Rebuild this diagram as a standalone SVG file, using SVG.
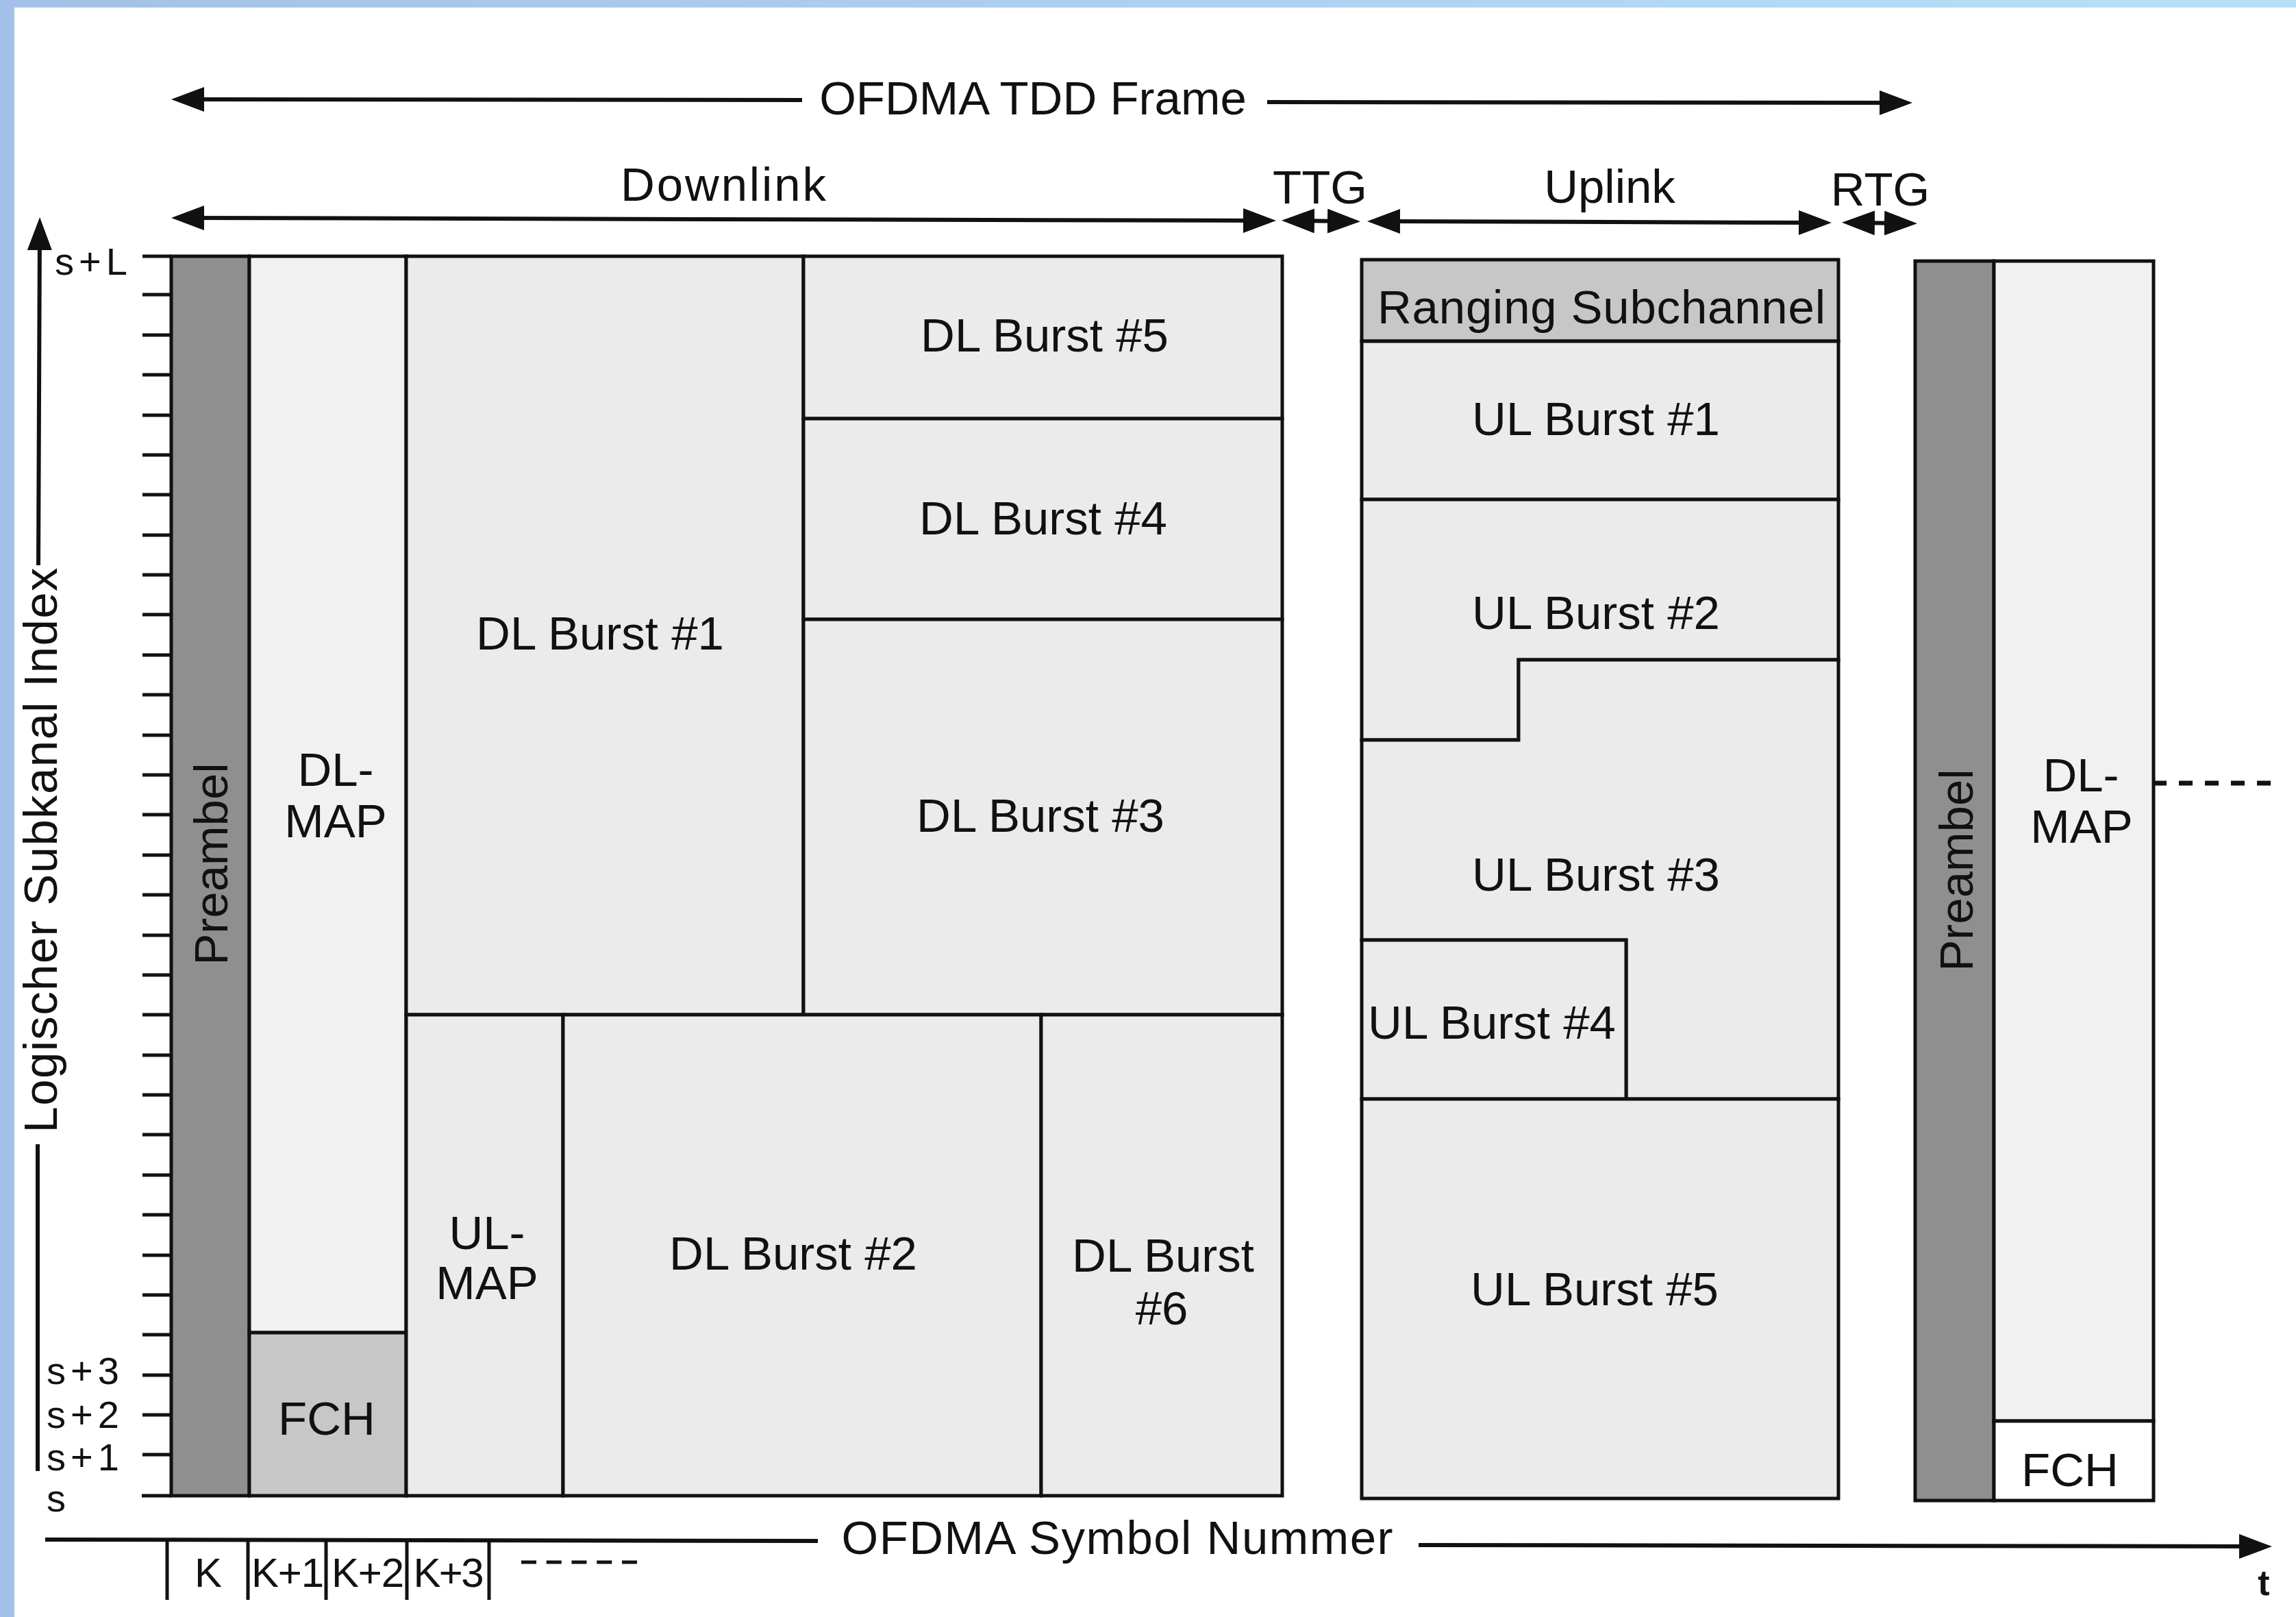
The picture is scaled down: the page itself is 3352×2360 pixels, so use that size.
<svg xmlns="http://www.w3.org/2000/svg" width="3352" height="2360" viewBox="0 0 3352 2360">
<style>
.t{font-family:"Liberation Sans",Arial,sans-serif;font-size:69px;fill:#111;text-anchor:middle}
.s{font-family:"Liberation Sans",Arial,sans-serif;font-size:56px;fill:#111}
.k{font-family:"Liberation Sans",Arial,sans-serif;font-size:60px;fill:#111;text-anchor:middle}
.box{stroke:#111;stroke-width:5;stroke-linejoin:miter}
.lt{fill:#ebebeb}
.lt2{fill:#f1f1f1}
.pre{fill:#8f8f8f}
.mid{fill:#c7c7c7}
.arr{stroke:#111;stroke-width:6;fill:none}
.tick{stroke:#111;stroke-width:5}
</style>
<defs>
<linearGradient id="blue" x1="0" y1="0" x2="1" y2="0">
<stop offset="0" stop-color="#a3c1e8"/>
<stop offset="1" stop-color="#b6e0f9"/>
</linearGradient>
<marker id="ah" viewBox="0 0 48 36" refX="28" refY="18" markerWidth="48" markerHeight="36" markerUnits="userSpaceOnUse" orient="auto-start-reverse">
<path d="M0,0 L48,18 L0,36 z" fill="#111"/>
</marker>
</defs>
<rect x="0" y="0" width="3352" height="2360" fill="#ffffff"/>
<rect x="0" y="0" width="3352" height="11" fill="url(#blue)"/>
<rect x="0" y="0" width="21" height="2360" fill="#a2c0e8"/>

<g id="connectors">
<line class="arr" x1="270" y1="145" x2="1171" y2="146" marker-start="url(#ah)"/>
<line class="arr" x1="1850" y1="149" x2="2772" y2="150" marker-end="url(#ah)"/>
<line class="arr" x1="270" y1="318" x2="1843" y2="322" marker-start="url(#ah)" marker-end="url(#ah)"/>
<line class="arr" x1="1891" y1="322" x2="1966" y2="323" marker-start="url(#ah)" marker-end="url(#ah)"/>
<line class="arr" x1="2016" y1="323" x2="2654" y2="325" marker-start="url(#ah)" marker-end="url(#ah)"/>
<line class="arr" x1="2709" y1="325" x2="2779" y2="326" marker-start="url(#ah)" marker-end="url(#ah)"/>
<line class="arr" x1="56" y1="825" x2="58" y2="337" marker-end="url(#ah)"/>
<line class="arr" x1="55" y1="2147" x2="55" y2="1670"/>
<line class="arr" x1="66" y1="2247" x2="1194" y2="2249"/>
<line class="arr" x1="2071" y1="2255" x2="3297" y2="2257" marker-end="url(#ah)"/>
<line x1="3143" y1="1143" x2="3318" y2="1143" stroke="#111" stroke-width="7" stroke-dasharray="20 18"/>
</g>

<g id="labels-top">
<text class="t" x="1508" y="167">OFDMA TDD Frame</text>
<text class="t" x="1056" y="293" textLength="300">Downlink</text>
<text class="t" x="1927" y="297">TTG</text>
<text class="t" x="2350" y="296">Uplink</text>
<text class="t" x="2745" y="300">RTG</text>
</g>

<g id="y-axis">
<text class="t" transform="translate(83,1241) rotate(-90)" textLength="825">Logischer Subkanal Index</text>
<g class="tick">
<line x1="208" y1="430" x2="250" y2="430"/><line x1="208" y1="489" x2="250" y2="489"/>
<line x1="208" y1="547" x2="250" y2="547"/><line x1="208" y1="606" x2="250" y2="606"/>
<line x1="208" y1="664" x2="250" y2="664"/><line x1="208" y1="722" x2="250" y2="722"/>
<line x1="208" y1="781" x2="250" y2="781"/><line x1="208" y1="839" x2="250" y2="839"/>
<line x1="208" y1="897" x2="250" y2="897"/><line x1="208" y1="956" x2="250" y2="956"/>
<line x1="208" y1="1014" x2="250" y2="1014"/><line x1="208" y1="1073" x2="250" y2="1073"/>
<line x1="208" y1="1131" x2="250" y2="1131"/><line x1="208" y1="1189" x2="250" y2="1189"/>
<line x1="208" y1="1248" x2="250" y2="1248"/><line x1="208" y1="1306" x2="250" y2="1306"/>
<line x1="208" y1="1365" x2="250" y2="1365"/><line x1="208" y1="1423" x2="250" y2="1423"/>
<line x1="208" y1="1481" x2="250" y2="1481"/><line x1="208" y1="1540" x2="250" y2="1540"/>
<line x1="208" y1="1598" x2="250" y2="1598"/><line x1="208" y1="1656" x2="250" y2="1656"/>
<line x1="208" y1="1715" x2="250" y2="1715"/><line x1="208" y1="1773" x2="250" y2="1773"/>
<line x1="208" y1="1832" x2="250" y2="1832"/><line x1="208" y1="1890" x2="250" y2="1890"/>
<line x1="208" y1="1948" x2="250" y2="1948"/><line x1="208" y1="2007" x2="250" y2="2007"/>
<line x1="208" y1="2065" x2="250" y2="2065"/><line x1="208" y1="2123" x2="250" y2="2123"/>
<line x1="208" y1="374" x2="250" y2="374"/><line x1="207" y1="2183" x2="250" y2="2183"/>
</g>
<text class="s" x="80" y="401" textLength="106">s+L</text>
<text class="s" x="68" y="2020" textLength="106">s+3</text>
<text class="s" x="68" y="2084" textLength="106">s+2</text>
<text class="s" x="68" y="2146" textLength="106">s+1</text>
<text class="s" x="68" y="2206">s</text>
</g>

<g id="x-axis">
<text class="t" x="1631" y="2268" textLength="805">OFDMA Symbol Nummer</text>
<text x="3305" y="2328" font-family="Liberation Sans,Arial,sans-serif" font-size="52" font-weight="bold" fill="#111" text-anchor="middle">t</text>
<g class="tick">
<line x1="244" y1="2247" x2="244" y2="2335"/><line x1="362" y1="2247" x2="362" y2="2335"/>
<line x1="476" y1="2247" x2="476" y2="2335"/><line x1="594" y1="2247" x2="594" y2="2335"/>
<line x1="714" y1="2247" x2="714" y2="2335"/>
</g>
<text class="k" x="304" y="2316">K</text>
<text class="k" x="420" y="2316" textLength="106">K+1</text>
<text class="k" x="537" y="2316" textLength="106">K+2</text>
<text class="k" x="655" y="2316" textLength="103">K+3</text>
<line x1="761" y1="2280" x2="930" y2="2280" stroke="#111" stroke-width="5" stroke-dasharray="22 14.75"/>
</g>

<g id="dl-preamble"><rect class="box pre" x="250" y="374" width="114" height="1809"/>
<text class="t" transform="translate(332,1261) rotate(-90)">Preambel</text></g>
<g id="dl-map"><rect class="box lt2" x="364" y="374" width="229" height="1571"/>
<text class="t" x="490" y="1147">DL-</text><text class="t" x="490" y="1222">MAP</text></g>
<g id="fch"><rect class="box mid" x="364" y="1945" width="229" height="238"/>
<text class="t" x="477" y="2094">FCH</text></g>
<g id="dl-burst-1"><rect class="box lt" x="593" y="374" width="580" height="1107"/>
<text class="t" x="876" y="948">DL Burst #1</text></g>
<g id="dl-burst-5"><rect class="box lt" x="1173" y="374" width="699" height="237"/>
<text class="t" x="1525" y="513">DL Burst #5</text></g>
<g id="dl-burst-4"><rect class="box lt" x="1173" y="611" width="699" height="293"/>
<text class="t" x="1523" y="780">DL Burst #4</text></g>
<g id="dl-burst-3"><rect class="box lt" x="1173" y="904" width="699" height="577"/>
<text class="t" x="1519" y="1214">DL Burst #3</text></g>
<g id="ul-map"><rect class="box lt" x="593" y="1481" width="229" height="702"/>
<text class="t" x="711" y="1823">UL-</text><text class="t" x="711" y="1896">MAP</text></g>
<g id="dl-burst-2"><rect class="box lt" x="822" y="1481" width="698" height="702"/>
<text class="t" x="1158" y="1853">DL Burst #2</text></g>
<g id="dl-burst-6"><rect class="box lt" x="1520" y="1481" width="352" height="702"/>
<text class="t" x="1698" y="1856">DL Burst</text><text class="t" x="1696" y="1933">#6</text></g>

<g id="ranging"><rect class="box mid" x="1988" y="379" width="696" height="119"/>
<text class="t" x="2338" y="472" textLength="654">Ranging Subchannel</text></g>
<g id="ul-burst-1"><rect class="box lt" x="1988" y="498" width="696" height="231"/>
<text class="t" x="2330" y="635">UL Burst #1</text></g>
<g id="ul-burst-2"><path class="box lt" d="M1988,729 L2684,729 L2684,963 L2217,963 L2217,1080 L1988,1080 Z"/>
<text class="t" x="2330" y="918">UL Burst #2</text></g>
<g id="ul-burst-3"><path class="box lt" d="M1988,1080 L2217,1080 L2217,963 L2684,963 L2684,1604 L2374,1604 L2374,1372 L1988,1372 Z"/>
<text class="t" x="2330" y="1300">UL Burst #3</text></g>
<g id="ul-burst-4"><rect class="box lt" x="1988" y="1372" width="386" height="232"/>
<text class="t" x="2178" y="1516">UL Burst #4</text></g>
<g id="ul-burst-5"><rect class="box lt" x="1988" y="1604" width="696" height="583"/>
<text class="t" x="2328" y="1905">UL Burst #5</text></g>

<g id="next-preamble"><rect class="box pre" x="2796" y="381" width="115" height="1809"/>
<text class="t" transform="translate(2880,1270) rotate(-90)">Preambel</text></g>
<g id="next-dl-map"><rect class="box lt2" x="2911" y="381" width="233" height="1693"/>
<text class="t" x="3038" y="1155">DL-</text><text class="t" x="3039" y="1230">MAP</text></g>
<g id="next-fch"><rect class="box" fill="#ffffff" x="2911" y="2074" width="233" height="116"/>
<text class="t" x="3022" y="2169">FCH</text></g>
</svg>
